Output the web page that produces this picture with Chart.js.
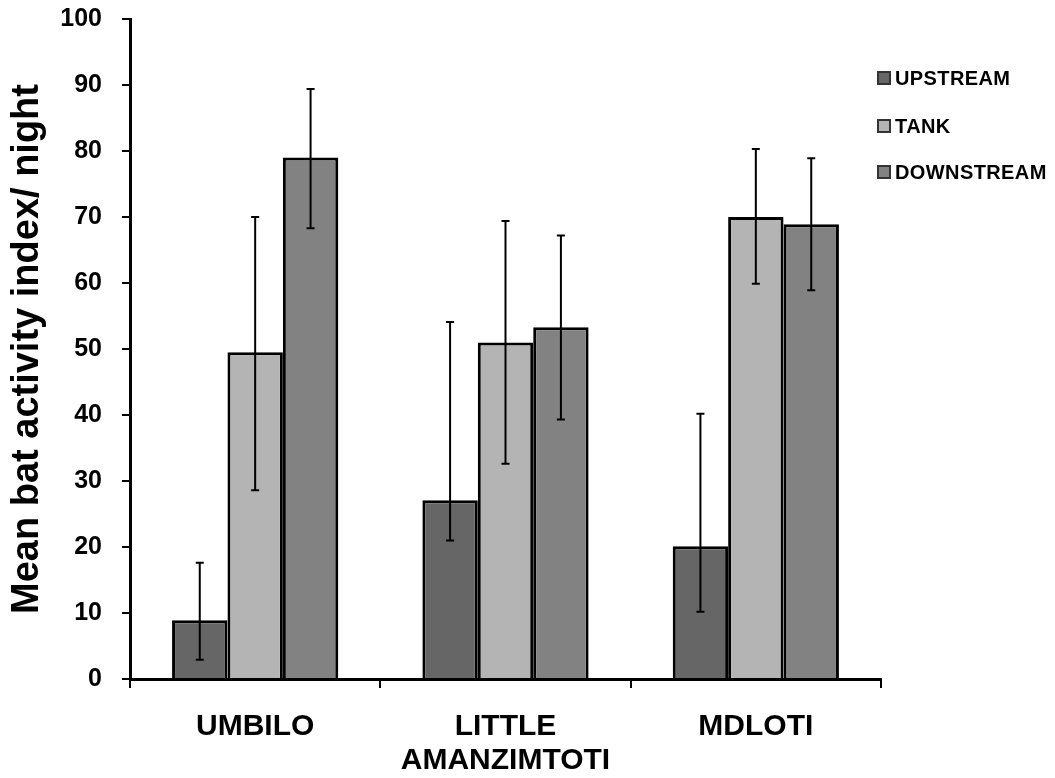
<!DOCTYPE html>
<html>
<head>
<meta charset="utf-8">
<script src="https://cdn.jsdelivr.net/npm/chart.js@4.4.1/dist/chart.umd.min.js"></script>
<style>
  body { margin: 0; background: #fff; }
  #wrap { position: relative; width: 1055px; height: 778px; }
  #legend { position: absolute; left: 0; top: 0; font-family: "Liberation Sans", Arial, sans-serif; font-weight: bold; font-size: 20px; letter-spacing: 0.4px; color: #000; }
  .item { position: absolute; left: 877px; height: 22px; display: flex; align-items: center; white-space: nowrap; }
  .swatch { width: 10px; height: 10px; border: 2px solid #333; margin-right: 4px; }
</style>
</head>
<body>
<div id="wrap">
  <canvas id="mycanvas" width="1055" height="778"></canvas>
  <div id="legend"></div>
</div>
<script>
var sites = ['UMBILO', ['LITTLE', 'AMANZIMTOTI'], 'MDLOTI'];
var seriesNames = ['UPSTREAM', 'TANK', 'DOWNSTREAM'];
var seriesColors = ['#666666', '#b4b4b4', '#828282'];

var upstream = [8.9, 27.1, 20.1];
var upstreamLow = [2.9, 21.0, 10.2];
var upstreamHigh = [17.6, 54.1, 40.2];

var tank = [49.5, 51.0, 70.0];
var tankLow = [28.6, 32.6, 59.9];
var tankHigh = [70.0, 69.4, 80.3];

var downstream = [79.0, 53.3, 68.9];
var downstreamLow = [68.3, 39.3, 58.9];
var downstreamHigh = [89.4, 67.2, 78.9];

var yTicks = [0, 10, 20, 30, 40, 50, 60, 70, 80, 90, 100];

var values = [upstream, tank, downstream];
var lows = [upstreamLow, tankLow, downstreamLow];
var highs = [upstreamHigh, tankHigh, downstreamHigh];

var datasets = [];
for (var i = 0; i < seriesNames.length; i++) {
	datasets.push({
		label: seriesNames[i],
		data: values[i],
		errLow: lows[i],
		errHigh: highs[i],
		backgroundColor: seriesColors[i],
		borderColor: '#000',
		borderWidth: 3,
		categoryPercentage: 0.664,
		barPercentage: 1.0
	});
}

// draws the error bars using the bar positions and the y scale
var errorBars = {
	id: 'errorBars',
	afterDatasetsDraw: function(chart) {
		var ctx = chart.ctx;
		var yScale = chart.scales.y;
		ctx.save();
		ctx.strokeStyle = '#000';
		ctx.lineWidth = 2;
		chart.data.datasets.forEach(function(ds, di) {
			var meta = chart.getDatasetMeta(di);
			meta.data.forEach(function(bar, j) {
				var x = bar.x;
				var yLo = yScale.getPixelForValue(ds.errLow[j]);
				var yHi = yScale.getPixelForValue(ds.errHigh[j]);
				ctx.beginPath();
				ctx.moveTo(x, yLo);
				ctx.lineTo(x, yHi);
				ctx.moveTo(x - 4, yLo);
				ctx.lineTo(x + 4, yLo);
				ctx.moveTo(x - 4, yHi);
				ctx.lineTo(x + 4, yHi);
				ctx.stroke();
			});
		});
		ctx.restore();
	}
};

var ctx = document.getElementById('mycanvas');

var barGraph = new Chart(ctx, {
	type: 'bar',
	data: { labels: sites, datasets: datasets },
	plugins: [errorBars],
	options: {
		responsive: false,
		animation: false,
		layout: { padding: { left: 0, top: 19, right: 174, bottom: 0 } },
		plugins: {
			legend: { display: false },
			tooltip: { enabled: false }
		},
		scales: {
			x: {
				grid: { drawOnChartArea: false, drawTicks: true, tickLength: 9, color: '#000', lineWidth: 2, offset: true },
				border: { color: '#000', width: 3 },
				ticks: {
					color: '#000',
					padding: 21,
					font: { family: 'Liberation Sans, Arial, sans-serif', size: 30, weight: 'bold', lineHeight: 1.15 }
				},
				afterFit: function(scale) {
					scale.height = 99;
					scale.paddingLeft = 0;
					scale.paddingRight = 0;
				}
			},
			y: {
				min: 0,
				max: 100,
				afterBuildTicks: function(scale) {
					scale.ticks = yTicks.map(function(v) { return { value: v }; });
				},
				grid: { drawOnChartArea: false, drawTicks: true, tickLength: 8, color: '#000', lineWidth: 2 },
				border: { color: '#000', width: 3 },
				ticks: {
					color: '#000',
					padding: 20,
					font: { family: 'Liberation Sans, Arial, sans-serif', size: 25, weight: 'bold', lineHeight: 1.2 }
				},
				title: {
					display: true,
					text: 'Mean bat activity index/ night',
					color: '#000',
					padding: { top: 5, bottom: 0 },
					font: { family: 'Liberation Sans, Arial, sans-serif', size: 38, weight: 'bold', lineHeight: 1.2 }
				},
				afterFit: function(scale) {
					scale.width = 130;
					scale.paddingTop = 0;
					scale.paddingBottom = 0;
				}
			}
		}
	}
});

// legend in html, built from the series arrays
var legendCenters = [78, 126, 172];
var legend = document.getElementById('legend');
for (var k = 0; k < seriesNames.length; k++) {
	var item = document.createElement('div');
	item.className = 'item';
	item.style.top = (legendCenters[k] - 11) + 'px';
	var sw = document.createElement('span');
	sw.className = 'swatch';
	sw.style.background = seriesColors[k];
	var txt = document.createElement('span');
	txt.textContent = seriesNames[k];
	item.appendChild(sw);
	item.appendChild(txt);
	legend.appendChild(item);
}
</script>
</body>
</html>
